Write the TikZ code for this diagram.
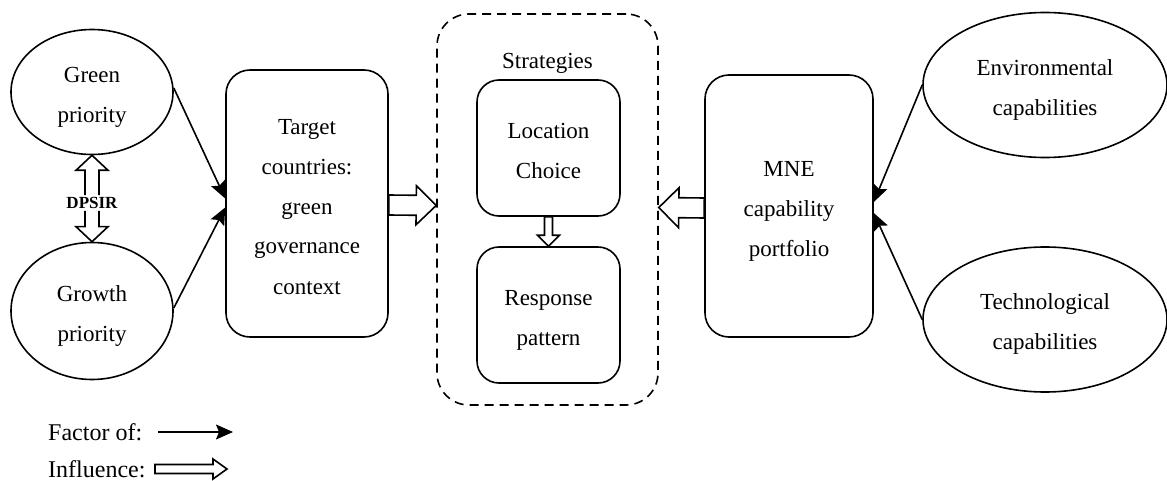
\documentclass[tikz,border=0pt]{standalone}
\usepackage{fontspec}
\setmainfont{Liberation Serif}
\usetikzlibrary{shapes.geometric,arrows.meta,calc}
\newcommand\ftop{\rule{0pt}{25pt}}
\newcommand\fbot{\rule[-4pt]{0pt}{4pt}}
\tikzset{
  txt/.style={font=\fontsize{23}{40}\selectfont, align=center},
  ell/.style={ellipse, draw, line width=1.6pt, inner sep=0pt, txt},
  rbox/.style={rectangle, draw, line width=1.6pt, rounded corners=#1, inner sep=0pt, txt},
  rbox/.default=24pt,
  factor/.style={line width=1.6pt, -{Stealth[length=17pt,width=15pt,inset=3pt]}},
  blockline/.style={line width=1.6pt, line join=miter, fill=white},
}
% #1 start, #2 tip, #3 shaft half, #4 head half, #5 head length, #6 path end (-- cycle or empty)
\newcommand\blockarr[6]{%
  \draw[blockline] let \p1=(#1), \p2=(#2), \n1={atan2(\y2-\y1,\x2-\x1)}, \n2={veclen(\x2-\x1,\y2-\y1)} in
    [shift={(\p1)}, rotate=\n1]
    (0,#3) -- (\n2-#5,#3) -- (\n2-#5,#4) -- (\n2,0) -- (\n2-#5,-#4) -- (\n2-#5,-#3) -- (0,-#3) #6;
}
\begin{document}
\begin{tikzpicture}[x=1pt,y=-1pt]
\useasboundingbox (0,0) rectangle (1167,481);

% left ellipses
\node[ell, minimum width=162pt, minimum height=125pt] (green) at (92,92) {\ftop Green\\priority\fbot};
\node[ell, minimum width=162pt, minimum height=137pt] (growth) at (92,311) {\ftop Growth\\priority\fbot};
\node[font=\bfseries\fontsize{17}{20}\selectfont, inner sep=2pt] (dpsir) at (92,203) {DPSIR};

% target box
\node[rbox, minimum width=162pt, minimum height=267pt] (target) at (307,203.5) {\ftop Target\\countries:\\green\\governance\\context\fbot};

% strategies
\node[rbox=32pt, dashed, dash pattern=on 9pt off 6pt, minimum width=221pt, minimum height=391pt] (strat) at (547.5,209.5) {};
\node[txt, inner sep=0pt] (stratlbl) at (547.5,63) {Strategies};
\node[rbox=22pt, minimum width=143pt, minimum height=136pt] (loc) at (548.5,148) {\ftop Location\\Choice\fbot};
\node[rbox=22pt, minimum width=143pt, minimum height=136pt] (resp) at (548.5,315) {\ftop Response\\pattern\fbot};

% MNE box
\node[rbox, minimum width=168pt, minimum height=262pt] (mne) at (789,206) {\ftop MNE\\capability\\portfolio\fbot};

% right ellipses
\node[ell, minimum width=244pt, minimum height=145pt] (env) at (1045,85) {\ftop Environmental\\capabilities\fbot};
\node[ell, minimum width=244pt, minimum height=145pt] (tech) at (1045,319.5) {\ftop Technological\\capabilities\fbot};

% factor arrows
\coordinate (tgin1) at ($(target.west)+(0,-5)$);
\coordinate (tgin2) at ($(target.west)+(0,4)$);
\draw[factor] ($(green.east)+(0,-4)$) -- (tgin1);
\draw[factor] ($(growth.east)+(0,-3)$) -- (tgin2);
\coordinate (mnin1) at ($(mne.east)+(0,-4)$);
\coordinate (mnin2) at ($(mne.east)+(0,7)$);
\draw[factor] (env.west) -- (mnin1);
\draw[factor] (tech.west) -- (mnin2);

% DPSIR double arrow
\blockarr{dpsir.north}{green.south}{7}{16}{15}{}
\blockarr{dpsir.south}{growth.north}{7}{16}{15}{}

% influence arrows
\coordinate (i1s) at ($(target.east)+(0,1.5)$);
\coordinate (i1t) at ($(strat.west)+(0,-4)$);
\blockarr{i1s}{i1t}{10}{19.5}{20}{-- cycle}
\coordinate (i2s) at ($(mne.west)+(0,2)$);
\coordinate (i2t) at ($(strat.east)+(0,-2)$);
\blockarr{i2s}{i2t}{10}{20}{20}{-- cycle}
\blockarr{loc.south}{resp.north}{4}{11}{11}{-- cycle}

% legend
\node[txt, anchor=west, inner sep=0pt, font=\fontsize{24}{30}\selectfont] (lgf) at (48,432) {Factor of:};
\node[txt, anchor=west, inner sep=0pt, font=\fontsize{24}{30}\selectfont] (lgi) at (48,469) {Influence:};
\coordinate (lf1) at (158,432);
\coordinate (lf2) at (233,432);
\draw[factor] (lf1) -- (lf2);
\coordinate (li1) at (155,469);
\coordinate (li2) at (227,469);
\blockarr{li1}{li2}{4.5}{10}{14}{-- cycle}
\end{tikzpicture}
\end{document}
